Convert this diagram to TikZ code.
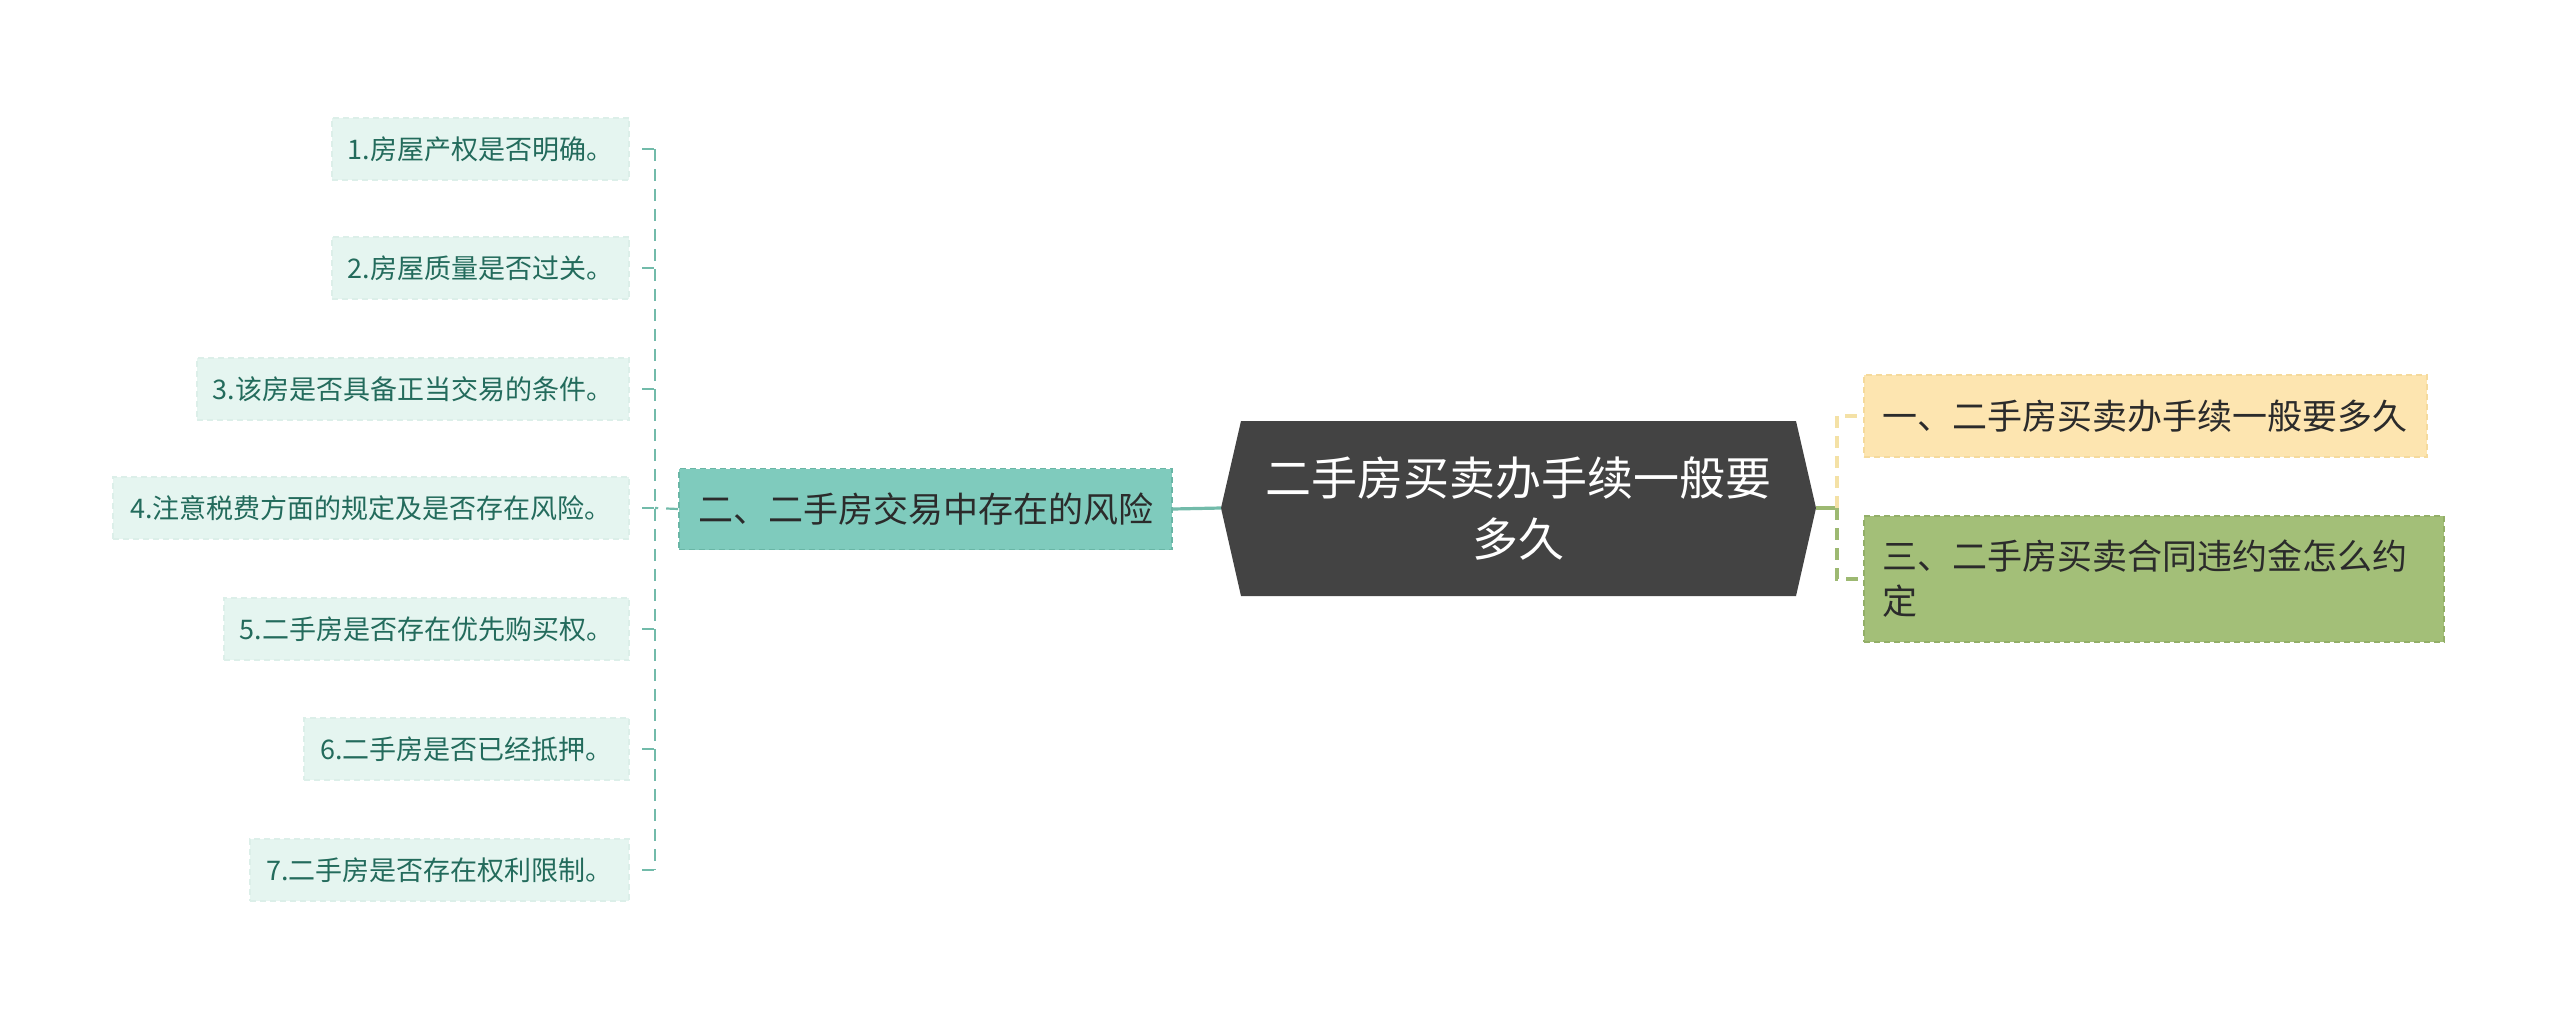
\documentclass[tikz,border=0pt]{standalone}
\usepackage{fontspec}
\setmainfont{Noto Sans CJK SC}
\usetikzlibrary{calc}
\definecolor{rootbg}{HTML}{434343}
\definecolor{tealbg}{HTML}{7FCBBD}
\definecolor{tealline}{HTML}{72BBAA}
\definecolor{tealborder}{HTML}{6AB6A6}
\definecolor{leafbg}{HTML}{E5F5F0}
\definecolor{leafborder}{HTML}{DCEFE9}
\definecolor{leaftext}{HTML}{236B5C}
\definecolor{yelbg}{HTML}{FDE5B0}
\definecolor{yelborder}{HTML}{F5DA9C}
\definecolor{yelline}{HTML}{F4E1A6}
\definecolor{grnbg}{HTML}{A3BF78}
\definecolor{grnborder}{HTML}{93AF68}
\definecolor{grnline}{HTML}{9DB972}
\definecolor{darktext}{HTML}{2B2B2B}
\begin{document}
\begin{tikzpicture}[x=0.5pt,y=-0.5pt,
  leaf/.style={anchor=east, fill=leafbg, draw=leafborder, dash pattern=on 3pt off 2pt, line width=0.8pt,
    text=leaftext, font=\fontsize{13.5pt}{16pt}\selectfont, minimum height=31pt, inner xsep=8pt, inner ysep=0pt},
  mainbox/.style={dash pattern=on 3pt off 2pt, line width=0.8pt, text=darktext,
    font=\fontsize{17.5pt}{22.5pt}\selectfont, inner ysep=0pt},
  tealconn/.style={draw=tealline, line width=1.1pt, dash pattern=on 6pt off 4pt},
  yelconn/.style={draw=yelline, line width=1.6pt, dash pattern=on 6pt off 4pt},
  grnconn/.style={draw=grnline, line width=1.6pt, dash pattern=on 6pt off 4pt}
]
\useasboundingbox (0,0) rectangle (2560,1019);

% root
\coordinate (rootW) at (1221,508);
\coordinate (rootE) at (1816,508);
\fill[rootbg] (rootW) -- (1241,421) -- (1796,421) -- (rootE) -- (1796,596) -- (1241,596) -- cycle;
\node[text=white, align=center, font=\fontsize{23pt}{30.5pt}\selectfont] (root) at (1518.5,508.5)
  {二手房买卖办手续一般要\\多久};

% left main
\node[mainbox, fill=tealbg, draw=tealborder, minimum width=246.5pt, minimum height=40.5pt] (risk) at (925.5,509)
  {二、二手房交易中存在的风险};

% right mains
\node[mainbox, anchor=west, fill=yelbg, draw=yelborder, minimum width=280pt, minimum height=41pt, inner xsep=9.5pt] (how) at (1863,416)
  {一、二手房买卖办手续一般要多久};
\node[mainbox, anchor=west, fill=grnbg, draw=grnborder, text width=271pt, align=left, minimum height=63pt, inner xsep=9.5pt] (pen) at (1863,579)
  {三、二手房买卖合同违约金怎么约\\定};

% leaves
\node[leaf, minimum width=147.5pt] (l1) at (630,149) {1.房屋产权是否明确。};
\node[leaf, minimum width=147.5pt] (l2) at (630,268) {2.房屋质量是否过关。};
\node[leaf, minimum width=216pt] (l3) at (630,389) {3.该房是否具备正当交易的条件。};
\node[leaf, minimum width=258pt] (l4) at (630,508) {4.注意税费方面的规定及是否存在风险。};
\node[leaf, minimum width=202.5pt] (l5) at (630,629) {5.二手房是否存在优先购买权。};
\node[leaf, minimum width=162.5pt] (l6) at (630,749) {6.二手房是否已经抵押。};
\node[leaf, minimum width=189.5pt] (l7) at (630,870) {7.二手房是否存在权利限制。};

% left connectors
\coordinate (spL) at (655,508);
\draw[draw=tealline, line width=1.6pt] (rootW) -- (risk.east);
\draw[tealconn] (risk.west) -- (spL);
\draw[tealconn] (l1.east -| spL) -- (l7.east -| spL);
\foreach \n in {l1,l2,l3,l4,l5,l6,l7}
  \draw[tealconn] ([xshift=6pt]\n.east) -- (\n.east -| spL);

% right connectors
\coordinate (spR) at (1837,508);
\draw[draw=grnline, line width=1.6pt] (rootE) -- (spR);
\draw[yelconn] (spR) -- (how.west -| spR) -- (how.west);
\draw[grnconn] (spR) -- (pen.west -| spR) -- (pen.west);
\end{tikzpicture}
\end{document}
